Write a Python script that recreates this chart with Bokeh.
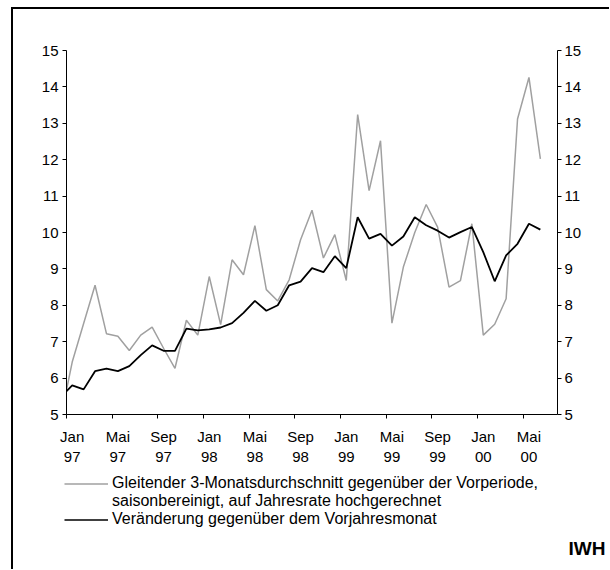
import numpy as np
import pandas as pd
from bokeh.plotting import figure
from bokeh.layouts import column
from bokeh.models import (LinearAxis, FixedTicker, Range1d, Legend, LegendItem, Label)
from bokeh.embed import file_html
from bokeh.resources import INLINE

# months Dez 96 .. Jun 00 (Dez 96 only feeds the segment entering the plot)
months = [str(p) for p in pd.period_range("1996-12", "2000-06", freq="M")]

gleitend = [4.90,
            6.44, 7.50, 8.55, 7.22, 7.15, 6.76, 7.18, 7.40, 6.82, 6.27, 7.59, 7.18,
            8.79, 7.47, 9.25, 8.84, 10.19, 8.43, 8.12, 8.70, 9.80, 10.61, 9.30, 9.94,
            8.68, 13.24, 11.15, 12.52, 7.51, 9.05, 10.00, 10.77, 10.15, 8.50, 8.68, 10.24,
            7.18, 7.48, 8.18, 13.12, 14.26, 12.02]
vorjahr = [5.48,
           5.80, 5.69, 6.19, 6.26, 6.19, 6.33, 6.63, 6.90, 6.75, 6.75, 7.36, 7.31,
           7.34, 7.39, 7.51, 7.79, 8.12, 7.85, 8.00, 8.55, 8.65, 9.02, 8.91, 9.35,
           9.02, 10.42, 9.83, 9.96, 9.64, 9.89, 10.42, 10.20, 10.05, 9.86, 10.01, 10.15,
           9.46, 8.66, 9.37, 9.69, 10.24, 10.08]
tick_labels = ["Jan\n97", "Mai\n97", "Sep\n97", "Jan\n98", "Mai\n98", "Sep\n98",
               "Jan\n99", "Mai\n99", "Sep\n99", "Jan\n00", "Mai\n00"]
y_ticks = list(range(5, 16))

legend_labels = ["Gleitender 3-Monatsdurchschnitt gegenüber der Vorperiode,",
                 "saisonbereinigt, auf Jahresrate hochgerechnet",
                 "Veränderung gegenüber dem Vorjahresmonat"]
source_label = "IWH"

FONT = "Liberation Sans"
FS = "15px"
GREY = "#a0a0a0"

# x: Jan 97 = 0 (category centres), Dez 96 = -1
x = np.arange(len(months)) - 1

W = 596
p = figure(width=W, height=461, x_range=Range1d(-0.5, 42.5), y_range=Range1d(5, 15),
           output_backend="svg", toolbar_location=None,
           min_border_left=53, min_border_right=52, min_border_top=41, min_border_bottom=56)
p.frame_align = False
p.grid.visible = False
p.outline_line_color = None
p.background_fill_color = "white"
p.border_fill_color = "white"

r1 = p.line(x, gleitend, line_color=GREY, line_width=1.5)
r2 = p.line(x, vorjahr, line_color="black", line_width=1.8)

xa = p.xaxis[0]
major = [4 * k for k in range(len(tick_labels))]
xa.ticker = FixedTicker(ticks=major, minor_ticks=[m - 0.5 for m in major])
xa.major_label_overrides = {m: lab for m, lab in zip(major, tick_labels)}
xa.major_tick_line_color = None
xa.minor_tick_out = 4
xa.minor_tick_in = 0
xa.minor_tick_line_color = "black"
xa.axis_line_color = "black"
xa.major_label_standoff = 7
xa.major_label_text_font = FONT
xa.major_label_text_font_size = FS
xa.major_label_text_color = "black"

ya = p.yaxis[0]
ra = LinearAxis()
p.add_layout(ra, "right")
for ax, so in ((ya, 4), (ra, 3)):
    ax.ticker = FixedTicker(ticks=y_ticks, minor_ticks=[])
    ax.major_tick_out = 4
    ax.major_tick_in = 0
    ax.major_tick_line_color = "black"
    ax.axis_line_color = "black"
    ax.major_label_standoff = so
    ax.major_label_text_font = FONT
    ax.major_label_text_font_size = FS
    ax.major_label_text_color = "black"

# legend panel below the chart
H2 = 99
p2 = figure(width=W, height=H2, x_range=Range1d(0, 1), y_range=Range1d(0, 1),
            x_axis_type=None, y_axis_type=None, output_backend="svg", toolbar_location=None,
            min_border=0)
p2.frame_align = False
p2.grid.visible = False
p2.outline_line_color = None
p2.background_fill_color = "white"
p2.border_fill_color = "white"
# key renderers (single point outside the view: nothing drawn, only legend samples)
k1 = p2.line([-5], [-5], line_color=GREY, line_width=1.5)
k0 = p2.line([-5], [-5], line_alpha=0)
k2 = p2.line([-5], [-5], line_color="black", line_width=1.6)

legend = Legend(items=[LegendItem(label=legend_labels[0], renderers=[k1]),
                       LegendItem(label=legend_labels[1], renderers=[k0]),
                       LegendItem(label=legend_labels[2], renderers=[k2])],
                location=(51, 41), padding=0, margin=0, spacing=0,
                glyph_width=44, glyph_height=17, label_height=17, label_standoff=4,
                border_line_color=None, background_fill_alpha=0,
                label_text_font=FONT, label_text_font_size="16px", label_text_color="black")
p2.add_layout(legend)

p2.add_layout(Label(x=592, y=21, x_units="screen", y_units="screen", text=source_label,
                    text_align="right", text_baseline="middle", text_font=FONT,
                    text_font_style="bold", text_font_size="19px", text_color="black"))

lay = column(p, p2, spacing=0)
lay.margin = (7, 0, 0, 11)
lay.styles = {"border-top": "2px solid black", "border-left": "2px solid black"}

open("out.html", "w").write(file_html(lay, INLINE))
